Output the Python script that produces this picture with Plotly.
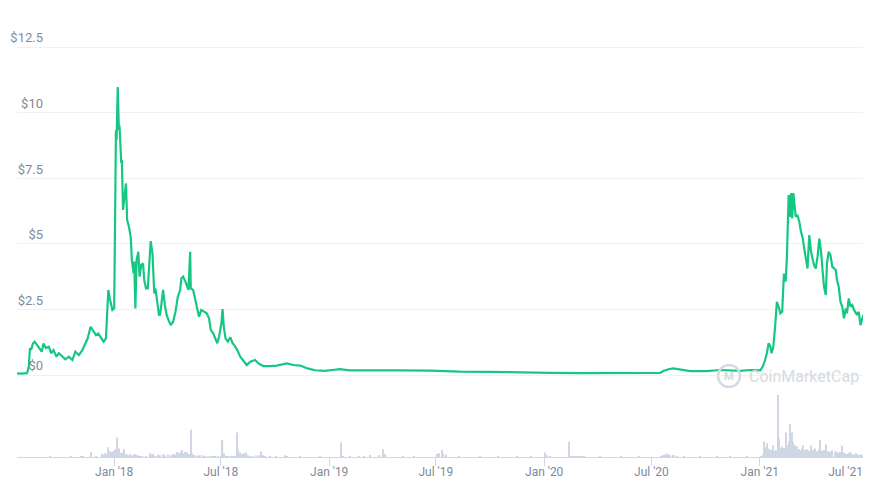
import plotly.graph_objects as go

# price history (USD)
price_dates = [
    "2017-07-20", "2017-07-28", "2017-08-06", "2017-08-09", "2017-08-11", "2017-08-13", "2017-08-16",
    "2017-08-19", "2017-08-25", "2017-08-31", "2017-09-03", "2017-09-07", "2017-09-12", "2017-09-16",
    "2017-09-20", "2017-09-25", "2017-09-29", "2017-10-05", "2017-10-10", "2017-10-16", "2017-10-22",
    "2017-10-27", "2017-11-02", "2017-11-08", "2017-11-13", "2017-11-17", "2017-11-22", "2017-11-27",
    "2017-12-01", "2017-12-05", "2017-12-10", "2017-12-14", "2017-12-18", "2017-12-22", "2017-12-25",
    "2017-12-29", "2018-01-01", "2018-01-04", "2018-01-05", "2018-01-07", "2018-01-09", "2018-01-10",
    "2018-01-13", "2018-01-14", "2018-01-16", "2018-01-19", "2018-01-21", "2018-01-23", "2018-01-26",
    "2018-01-29", "2018-01-31", "2018-02-03", "2018-02-04", "2018-02-06", "2018-02-08", "2018-02-11",
    "2018-02-13", "2018-02-16", "2018-02-19", "2018-02-21", "2018-02-24", "2018-02-27", "2018-03-01",
    "2018-03-04", "2018-03-07", "2018-03-10", "2018-03-12", "2018-03-15", "2018-03-18", "2018-03-20",
    "2018-03-23", "2018-03-25", "2018-03-28", "2018-03-31", "2018-04-03", "2018-04-07", "2018-04-11",
    "2018-04-15", "2018-04-19", "2018-04-23", "2018-04-25", "2018-04-28", "2018-05-02", "2018-05-04",
    "2018-05-07", "2018-05-10", "2018-05-11", "2018-05-15", "2018-05-18", "2018-05-22", "2018-05-25",
    "2018-05-29", "2018-06-02", "2018-06-07", "2018-06-11", "2018-06-14", "2018-06-18", "2018-06-22",
    "2018-06-25", "2018-06-28", "2018-07-02", "2018-07-04", "2018-07-06", "2018-07-09", "2018-07-13",
    "2018-07-17", "2018-07-21", "2018-07-25", "2018-07-29", "2018-08-03", "2018-08-08", "2018-08-14",
    "2018-08-20", "2018-08-28", "2018-09-03", "2018-09-11", "2018-09-23", "2018-10-04", "2018-10-21",
    "2018-11-01", "2018-11-13", "2018-11-25", "2018-12-08", "2018-12-25", "2019-01-10", "2019-01-19",
    "2019-02-05", "2019-03-11", "2019-05-01", "2019-06-21", "2019-08-11", "2019-10-01", "2019-11-21",
    "2020-01-11", "2020-03-02", "2020-04-22", "2020-06-12", "2020-07-16", "2020-07-21", "2020-07-30",
    "2020-08-07", "2020-08-14", "2020-09-05", "2020-10-02", "2020-10-26", "2020-11-29", "2020-12-16",
    "2021-01-02", "2021-01-06", "2021-01-10", "2021-01-13", "2021-01-16", "2021-01-19", "2021-01-21",
    "2021-01-24", "2021-01-27", "2021-01-30", "2021-02-02", "2021-02-05", "2021-02-08", "2021-02-11",
    "2021-02-14", "2021-02-16", "2021-02-19", "2021-02-22", "2021-02-23", "2021-02-25", "2021-02-27",
    "2021-03-01", "2021-03-03", "2021-03-06", "2021-03-09", "2021-03-12", "2021-03-15", "2021-03-17",
    "2021-03-20", "2021-03-23", "2021-03-26", "2021-03-29", "2021-04-01", "2021-04-03", "2021-04-06",
    "2021-04-09", "2021-04-12", "2021-04-15", "2021-04-18", "2021-04-20", "2021-04-23", "2021-04-25",
    "2021-04-28", "2021-05-01", "2021-05-04", "2021-05-07", "2021-05-10", "2021-05-12", "2021-05-15",
    "2021-05-18", "2021-05-21", "2021-05-24", "2021-05-27", "2021-05-29", "2021-06-01", "2021-06-04",
    "2021-06-07", "2021-06-10", "2021-06-13", "2021-06-15", "2021-06-18", "2021-06-21", "2021-06-24",
    "2021-06-27", "2021-06-30", "2021-07-02",
]
price_values = [
    0.06, 0.05, 0.07, 0.32, 1.03, 0.95, 1.2,
    1.27, 1.08, 0.89, 1.2, 1.03, 1.08, 0.83,
    0.95, 0.70, 0.83, 0.70, 0.60, 0.70, 0.57,
    0.89, 0.76, 0.95, 1.2, 1.4, 1.84, 1.65,
    1.52, 1.58, 1.4, 1.27, 1.4, 3.24, 2.86,
    2.48, 2.54, 9.33, 8.95, 10.98, 9.33, 9.52,
    8.07, 8.2, 6.29, 6.8, 7.3, 5.9, 5.65,
    5.27, 4.38, 3.87, 4.32, 2.54, 4.38, 4.7,
    3.75, 4.2, 4.25, 3.62, 3.3, 3.3, 4.13,
    5.1, 4.63, 3.11, 3.3, 2.86, 2.29, 2.3,
    2.86, 3.24, 2.67, 2.29, 2.1, 1.9, 2.03,
    2.41, 2.98, 3.24, 3.68, 3.75, 3.56, 3.43,
    3.24, 4.7, 3.3, 3.24, 2.92, 2.6, 2.22,
    2.48, 2.41, 2.35, 2.16, 1.71, 1.59, 1.33,
    1.21, 1.46, 1.97, 2.51, 1.84, 1.4, 1.27,
    1.44, 1.21, 1.1, 0.95, 0.7, 0.55, 0.38,
    0.51, 0.57, 0.44, 0.34, 0.34, 0.36, 0.44,
    0.38, 0.36, 0.25, 0.18, 0.16, 0.2, 0.22,
    0.18, 0.19, 0.18, 0.17, 0.13, 0.12, 0.09,
    0.08, 0.07, 0.07, 0.07, 0.08, 0.15, 0.22,
    0.25, 0.22, 0.15, 0.15, 0.19, 0.16, 0.19,
    0.18, 0.32, 0.57, 0.83, 1.21, 1.08, 0.83,
    1.08, 1.84, 2.79, 2.6, 2.35, 2.41, 3.87,
    3.56, 4.5, 6.86, 6.03, 6.93, 5.97, 6.93,
    6.43, 6.03, 6.1, 5.84, 5.46, 5.2, 4.88,
    4.5, 4.06, 5.33, 4.7, 4.38, 4.19, 4.06,
    4.5, 5.2, 4.7, 3.87, 3.36, 3.05, 4.25,
    4.7, 4.57, 4.13, 4.06, 4.0, 3.62, 3.36,
    2.79, 2.6, 2.16, 2.54, 2.35, 2.92, 2.6,
    2.67, 2.48, 2.35, 2.29, 2.41, 1.9, 2.16,
    2.35, 2.48, 2.54,
]

# trading volume (relative units)
volume_dates = [
    "2017-09-15", "2017-10-20", "2017-11-06", "2017-11-09", "2017-11-22", "2017-12-01", "2017-12-11",
    "2017-12-14", "2017-12-16", "2017-12-20", "2017-12-22", "2017-12-25", "2017-12-28", "2017-12-30",
    "2018-01-02", "2018-01-04", "2018-01-06", "2018-01-08", "2018-01-09", "2018-01-12", "2018-01-14",
    "2018-01-16", "2018-01-18", "2018-01-21", "2018-01-23", "2018-01-26", "2018-01-28", "2018-02-01",
    "2018-02-04", "2018-02-06", "2018-02-08", "2018-02-11", "2018-02-14", "2018-02-18", "2018-02-24",
    "2018-03-03", "2018-03-05", "2018-03-08", "2018-03-12", "2018-03-17", "2018-03-20", "2018-03-25",
    "2018-03-29", "2018-04-03", "2018-04-07", "2018-04-11", "2018-04-15", "2018-04-18", "2018-04-21",
    "2018-04-23", "2018-04-26", "2018-04-28", "2018-05-01", "2018-05-03", "2018-05-05", "2018-05-08",
    "2018-05-11", "2018-05-13", "2018-05-15", "2018-05-19", "2018-05-23", "2018-05-27", "2018-06-01",
    "2018-06-05", "2018-06-09", "2018-06-14", "2018-06-18", "2018-06-22", "2018-06-26", "2018-07-01",
    "2018-07-04", "2018-07-06", "2018-07-10", "2018-07-14", "2018-07-18", "2018-07-22", "2018-07-26",
    "2018-07-29", "2018-07-31", "2018-08-03", "2018-08-06", "2018-08-09", "2018-08-13", "2018-08-16",
    "2018-08-20", "2018-08-25", "2018-08-30", "2018-09-04", "2018-09-07", "2018-09-10", "2018-09-15",
    "2018-09-23", "2018-10-02", "2018-10-18", "2018-10-22", "2018-11-13", "2018-12-17", "2019-01-21",
    "2019-01-24", "2019-02-06", "2019-02-20", "2019-03-01", "2019-03-12", "2019-03-27", "2019-04-03",
    "2019-04-06", "2019-05-07", "2019-05-25", "2019-07-03", "2019-07-07", "2019-07-11", "2019-07-13",
    "2019-07-18", "2019-08-10", "2019-09-14", "2019-10-15", "2019-11-16", "2019-12-10", "2020-01-03",
    "2020-01-06", "2020-01-11", "2020-02-12", "2020-02-15", "2020-02-18", "2020-02-21", "2020-02-24",
    "2020-02-27", "2020-03-02", "2020-03-05", "2020-03-09", "2020-04-05", "2020-05-10", "2020-06-10",
    "2020-07-18", "2020-07-21", "2020-07-25", "2020-07-27", "2020-07-30", "2020-08-02", "2020-08-06",
    "2020-08-09", "2020-08-14", "2020-08-25", "2020-09-22", "2020-10-20", "2020-11-12", "2020-12-10",
    "2021-01-03", "2021-01-06", "2021-01-08", "2021-01-10", "2021-01-11", "2021-01-13", "2021-01-15",
    "2021-01-17", "2021-01-20", "2021-01-22", "2021-01-24", "2021-01-27", "2021-01-29", "2021-02-01",
    "2021-02-03", "2021-02-05", "2021-02-07", "2021-02-10", "2021-02-12", "2021-02-14", "2021-02-17",
    "2021-02-19", "2021-02-21", "2021-02-23", "2021-02-24", "2021-02-27", "2021-03-02", "2021-03-05",
    "2021-03-08", "2021-03-11", "2021-03-14", "2021-03-16", "2021-03-19", "2021-03-23", "2021-03-26",
    "2021-03-29", "2021-04-01", "2021-04-05", "2021-04-08", "2021-04-11", "2021-04-14", "2021-04-17",
    "2021-04-20", "2021-04-24", "2021-04-27", "2021-05-01", "2021-05-04", "2021-05-08", "2021-05-11",
    "2021-05-14", "2021-05-17", "2021-05-20", "2021-05-23", "2021-05-26", "2021-05-29", "2021-06-01",
    "2021-06-04", "2021-06-07", "2021-06-10", "2021-06-13", "2021-06-16", "2021-06-19", "2021-06-22",
    "2021-06-25", "2021-06-28", "2021-07-01",
]
volume_values = [
    0.5, 0.8, 2, 2, 8, 1.5, 5,
    4, 6, 5, 15, 9, 8, 9,
    12, 10, 29, 9, 13, 6, 7,
    5, 12, 4, 4, 3, 4, 3,
    4, 5, 3, 3, 2, 1.5, 1.5,
    6, 4, 5, 2, 4, 3, 4.5,
    3, 4, 3, 5, 4, 8, 6,
    7, 11, 6, 8, 6, 7, 5,
    41, 6, 3, 3, 2.5, 3, 3,
    2, 2, 1.5, 2, 1.5, 2, 1.5,
    26, 6, 2, 1.5, 2, 2, 2,
    37, 12, 7, 5, 6, 7, 3,
    2, 2, 2.5, 3, 9, 3, 1.5,
    1, 1, 3, 2, 1, 1, 22,
    1.5, 1, 1, 1.5, 3.5, 3, 12,
    5, 1.5, 1, 5, 6, 11, 6,
    4, 1, 1, 0.8, 1.5, 0.8, 7,
    3, 2, 23, 2, 2, 2, 2,
    2, 2, 1.5, 1.5, 1, 0.8, 0.8,
    2, 3.5, 4, 5.5, 4, 3.5, 3,
    3.5, 2, 1, 1, 0.8, 0.8, 0.8,
    1.5, 4, 24, 13, 15, 21, 13,
    12, 11, 9, 18, 9, 11, 92.5,
    28, 14, 16, 12, 14, 37, 18,
    24, 49, 30, 37, 22, 18, 16,
    12, 10, 13, 18, 11, 12, 10,
    17, 11, 13, 9, 12, 26, 10,
    11, 19, 9, 8.5, 10, 8, 9,
    7, 8, 17, 8, 6, 5, 6,
    8, 5, 4, 6, 4, 3.5, 4,
    3, 3.5, 3,
]

tick_dates = ["2018-01-01", "2018-07-01", "2019-01-01", "2019-07-01", "2020-01-01",
              "2020-07-01", "2021-01-01", "2021-07-01"]
tick_labels = ["Jan '18", "Jul '18", "Jan '19", "Jul '19", "Jan '20",
               "Jul '20", "Jan '21", "Jul '21" + "\u00a0" * 14]

price_ticks = [0, 2.5, 5, 7.5, 10, 12.5]
price_tick_labels = ["$0", "$2.5", "$5", "$7.5", "$10", "$12.5"]

W, H = 871, 488
OFF = 8  # the page body margin shifts the figure by this much


def fx(px):
    return (px - OFF) / W


def fy(py):
    return 1 - (py - OFF) / H


label_color = "#808a9d"

price = go.Scatter(x=price_dates, y=price_values, mode="lines",
                   line=dict(color="#16c784", width=2.2), xaxis="x", yaxis="y",
                   hoverinfo="skip")
volume = go.Bar(x=volume_dates, y=volume_values, marker=dict(color="#cfd6e4", line=dict(width=0)),
                width=2 * 86400000, xaxis="x", yaxis="y2", hoverinfo="skip")

fig = go.Figure(data=[volume, price])

fig.update_layout(
    width=W, height=H,
    margin=dict(l=0, r=0, t=0, b=0, autoexpand=False),
    paper_bgcolor="white", plot_bgcolor="white",
    showlegend=False,
    font=dict(family="Roboto", color=label_color),
    xaxis=dict(
        type="date",
        domain=[fx(17), fx(867)],
        range=["2017-07-20", "2021-07-02"],
        anchor="y2", automargin=False,
        tickvals=tick_dates, ticktext=tick_labels,
        tickfont=dict(size=12, color=label_color),
        ticklabeloverflow="allow", ticklabelstandoff=-5,
        showgrid=False, zeroline=False,
        showline=True, linecolor="#cfd6e4", linewidth=1,
        ticks="outside", ticklen=8, tickcolor="#cfd6e4", tickwidth=1,
    ),
    yaxis=dict(
        domain=[fy(380.25), fy(44.4)],
        range=[-0.2, 12.6],
        anchor="free", position=fx(43), side="left", automargin=False,
        tickvals=price_ticks, ticktext=price_tick_labels,
        ticklabelposition="outside top",
        tickfont=dict(size=13, color=label_color),
        ticks="", showline=False, zeroline=False,
        showgrid=True, gridcolor="#eff2f5", gridwidth=1,
    ),
    yaxis2=dict(
        domain=[fy(457.3), fy(390)],
        range=[0, 100], automargin=False,
        visible=False, showgrid=False, zeroline=False,
    ),
)

# CoinMarketCap watermark
fig.add_shape(type="circle", xref="paper", yref="paper",
              x0=fx(718), x1=fx(740), y0=fy(387), y1=fy(365),
              line=dict(color="#d5dae3", width=2.5))
fig.add_annotation(x=fx(729), y=fy(376), xref="paper", yref="paper",
                   xanchor="center", yanchor="middle",
                   text="<b>M</b>", showarrow=False,
                   font=dict(family="Roboto", size=11, color="#d5dae3"))
fig.add_annotation(x=fx(747), y=fy(376), xref="paper", yref="paper",
                   xanchor="left", yanchor="middle",
                   text="CoinMarketCap", showarrow=False,
                   font=dict(family="Roboto", size=16, color="#d5dae3"))

fig.write_html("out.html")
